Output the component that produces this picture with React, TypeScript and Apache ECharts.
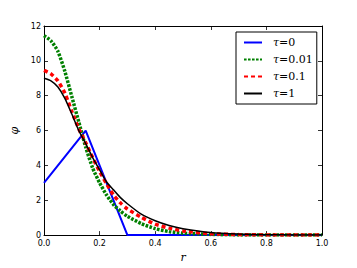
import React, { useEffect, useRef } from "react";
import * as echarts from "echarts";

const rGrid = [0, 0.025, 0.05, 0.075, 0.1, 0.125, 0.15, 0.175, 0.2, 0.225, 0.25, 0.275, 0.3, 0.35, 0.4, 0.45, 0.5, 0.6, 0.7, 0.8, 0.9, 1.0];

const tau0R = [0, 0.15, 0.3, 1.0];
const tau0V = [3, 6, 0, 0];

const tau001V = [11.45, 11.15, 10.55, 9.4, 7.95, 6.5, 5.05, 3.85, 3.0, 2.3, 1.75, 1.38, 1.08, 0.66, 0.37, 0.2, 0.11, 0.04, 0.01, 0, 0, 0];
const tau01V = [9.45, 9.25, 8.85, 8.15, 7.1, 6.1, 5.3, 4.45, 3.65, 2.95, 2.3, 1.85, 1.5, 1.02, 0.63, 0.4, 0.24, 0.08, 0.03, 0.01, 0, 0];
const tau1V = [9.0, 8.85, 8.5, 7.85, 6.95, 6.0, 5.25, 4.45, 3.75, 3.05, 2.6, 2.15, 1.8, 1.2, 0.82, 0.55, 0.37, 0.15, 0.06, 0.02, 0.01, 0];

const names = ["τ=0", "τ=0.01", "τ=0.1", "τ=1"];

const pairs = (xs: number[], ys: number[]) => xs.map((x, i) => [x, ys[i]]);

export default function App() {
  const ref = useRef<HTMLDivElement>(null);
  useEffect(() => {
    const chart = echarts.init(ref.current!, null, { renderer: "svg" });
    const axisCommon = {
      axisLine: { show: true, onZero: false, lineStyle: { color: "#000", width: 1 } },
      axisTick: { show: true, inside: true, length: 4, lineStyle: { color: "#000", width: 0.8 } },
      splitLine: { show: false },
    };
    const labelStyle = { color: "#000", fontSize: 8, fontFamily: "DejaVu Sans" };
    chart.setOption({
      animation: false,
      backgroundColor: "#fff",
      grid: { left: 44, right: 35, top: 26, bottom: 27 },
      xAxis: [
        {
          type: "value", min: 0, max: 1, interval: 0.2, position: "bottom",
          ...axisCommon,
          axisLabel: { ...labelStyle, margin: 4, formatter: (v: number) => v.toFixed(1) },
          name: "r", nameLocation: "middle", nameGap: 16,
          nameTextStyle: { fontFamily: "DejaVu Serif", fontStyle: "italic", fontSize: 11, color: "#000" },
        },
        { type: "value", min: 0, max: 1, interval: 0.2, position: "top", ...axisCommon, axisLabel: { show: false } },
      ],
      yAxis: [
        {
          type: "value", min: 0, max: 12, interval: 2, position: "left",
          ...axisCommon,
          axisLabel: { ...labelStyle, margin: 3 },
          name: "φ", nameLocation: "middle", nameGap: 18, nameRotate: 90,
          nameTextStyle: { fontFamily: "DejaVu Serif", fontStyle: "italic", fontSize: 11, color: "#000" },
        },
        { type: "value", min: 0, max: 12, interval: 2, position: "right", ...axisCommon, axisLabel: { show: false } },
      ],
      legend: {
        orient: "vertical",
        left: 236,
        top: 32,
        data: names,
        backgroundColor: "#fff",
        borderColor: "#000",
        borderWidth: 1,
        borderRadius: 0,
        padding: [5, 4, 5, 7],
        itemWidth: 18,
        itemHeight: 10,
        itemGap: 6,
        itemStyle: { opacity: 0 },
        formatter: (n: string) => "{t|τ}{e|=" + n.slice(2) + "}",
        textStyle: {
          color: "#000",
          fontFamily: "DejaVu Serif",
          fontSize: 11,
          rich: {
            t: { fontFamily: "DejaVu Serif", fontStyle: "italic", fontSize: 11, padding: [0, 0, 0, 6], color: "#000" },
            e: { fontFamily: "DejaVu Serif", fontSize: 11, color: "#000", width: 29 },
          },
        },
      },
      series: [
        {
          name: names[0], type: "line", data: pairs(tau0R, tau0V), showSymbol: false, symbol: "none",
          lineStyle: { color: "#0000ff", width: 2 }, itemStyle: { color: "#0000ff" },
        },
        {
          name: names[1], type: "line", data: pairs(rGrid, tau001V), showSymbol: false, symbol: "none", smooth: 0.2,
          lineStyle: { color: "#008000", width: 3.5, type: [2.6, 1.4], cap: "butt" }, itemStyle: { color: "#008000" },
        },
        {
          name: names[2], type: "line", data: pairs(rGrid, tau01V), showSymbol: false, symbol: "none", smooth: 0.2,
          lineStyle: { color: "#ff0000", width: 3.5, type: [4, 3], cap: "butt" }, itemStyle: { color: "#ff0000" },
        },
        {
          name: names[3], type: "line", data: pairs(rGrid, tau1V), showSymbol: false, symbol: "none", smooth: 0.2,
          lineStyle: { color: "#000000", width: 1.5 }, itemStyle: { color: "#000000" },
        },
      ],
    });
    return () => chart.dispose();
  }, []);
  return <div ref={ref} style={{ width: 357, height: 268, position: "absolute", left: 0, top: 0 }} />;
}
